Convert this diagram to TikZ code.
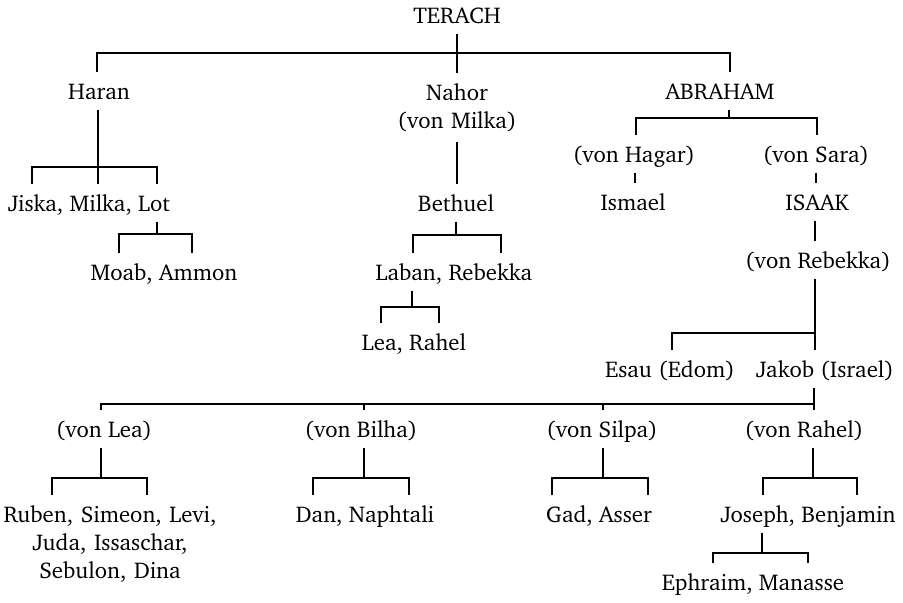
\documentclass[tikz,border=0pt]{standalone}
\usepackage[T1]{fontenc}
\usepackage{charter}
\usepackage{tikz}

\begin{document}
\begin{tikzpicture}[x = 0.5pt, y = -0.5pt, line width = 0.7pt,
    person/.style = {anchor = base, inner xsep = 0pt, inner ysep = 5pt, text height = 8pt, text depth = 0pt, font = \fontsize{11.4pt}{14.2pt}\selectfont},
    persons/.style = {person, text depth = {}, align = center, text width = #1}]
      \useasboundingbox (0, 0) rectangle (903, 602);

      \node[person] (terach) at (457, 23) {TERACH};
      \node[person] (haran) at (99, 99) {Haran};
      \node[persons = 90pt] (nahor) at (457, 100) {Nahor\\(von Milka)};
      \node[person] (abraham) at (720, 99) {ABRAHAM};
      \node[person] (hagar) at (634, 162) {(von Hagar)};
      \node[person] (sara) at (816, 162) {(von Sara)};
      \node[person] (jml) at (89, 211) {Jiska, Milka, Lot};
      \node[person] (bethuel) at (456, 211) {Bethuel};
      \node[person] (ismael) at (633, 210) {Ismael};
      \node[person] (isaak) at (817, 210) {ISAAK};
      \node[person] (moab) at (164, 280) {Moab, Ammon};
      \node[person] (laban) at (454, 280) {Laban, Rebekka};
      \node[person] (rebekka) at (818, 268) {(von Rebekka)};
      \node[person] (lea) at (414, 350) {Lea, Rahel};
      \node[person] (esau) at (670, 377) {Esau (Edom)};
      \node[person] (jakob) at (825, 377) {Jakob (Israel)};
      \node[person] (vlea) at (104, 437) {(von Lea)};
      \node[person] (vbilha) at (361, 437) {(von Bilha)};
      \node[person] (vsilpa) at (602, 437) {(von Silpa)};
      \node[person] (vrahel) at (804, 437) {(von Rahel)};
      \node[persons = 140pt] (ruben) at (110, 522) {Ruben, Simeon, Levi,\\Juda, Issaschar,\\Sebulon, Dina};
      \node[person] (dan) at (365, 522) {Dan, Naphtali};
      \node[person] (gad) at (599, 522) {Gad, Asser};
      \node[person] (joseph) at (808, 522) {Joseph, Benjamin};
      \node[person] (ephraim) at (753, 590) {Ephraim, Manasse};

      \draw (terach.south) -- (terach.south |- nahor.north);
      \draw (97, 0 |- haran.north) |- (730, 53) -- (730, 0 |- abraham.north);

      \draw (98, 0 |- haran.south) -- (98, 0 |- jml.north);
      \draw (32, 0 |- jml.north) |- (157, 167) -- (157, 0 |- jml.north);
      \draw (157, 0 |- jml.south) -- (157, 234);
      \draw (119, 0 |- moab.north) |- (192, 234) -- (192, 0 |- moab.north);

      \draw (nahor.south) -- (nahor.south |- bethuel.north);
      \draw (bethuel.south) -- (bethuel.south |- 0, 235);
      \draw (413, 0 |- laban.north) |- (501, 235) -- (501, 0 |- laban.north);
      \draw (412, 0 |- laban.south) -- (412, 307);
      \draw (381, 0 |- lea.north) |- (439, 307) -- (439, 0 |- lea.north);

      \draw (729, 0 |- abraham.south) -- (729, 118);
      \draw (636, 0 |- hagar.north) |- (817, 118) -- (817, 0 |- sara.north);
      \draw (635, 0 |- hagar.south) -- (635, 0 |- ismael.north);
      \draw (816, 0 |- sara.south) -- (816, 0 |- isaak.north);
      \draw (815, 0 |- isaak.south) -- (815, 0 |- rebekka.north);
      \draw (815, 0 |- rebekka.south) -- (815, 0 |- jakob.north);
      \draw (672, 0 |- esau.north) |- (815, 333);

      \draw (814, 0 |- jakob.south) -- (814, 0 |- vrahel.north);
      \draw (101, 0 |- vlea.north) |- (814, 404);
      \draw (364, 0 |- vbilha.north) -- (364, 404);
      \draw (603, 0 |- vsilpa.north) -- (603, 404);
      \foreach \m/\x/\c/\l/\r in {vlea/101/ruben/52/147, vbilha/364/dan/313/409, vsilpa/603/gad/552/648, vrahel/813/joseph/763/857}
        \draw (\x, 0 |- \m.south) -- (\x, 478) (\l, 0 |- \c.north) |- (\r, 478) -- (\r, 0 |- \c.north);

      \draw (762, 0 |- joseph.south) -- (762, 553);
      \draw (713, 0 |- ephraim.north) |- (808, 553) -- (808, 0 |- ephraim.north);

    \end{tikzpicture}
\end{document}
